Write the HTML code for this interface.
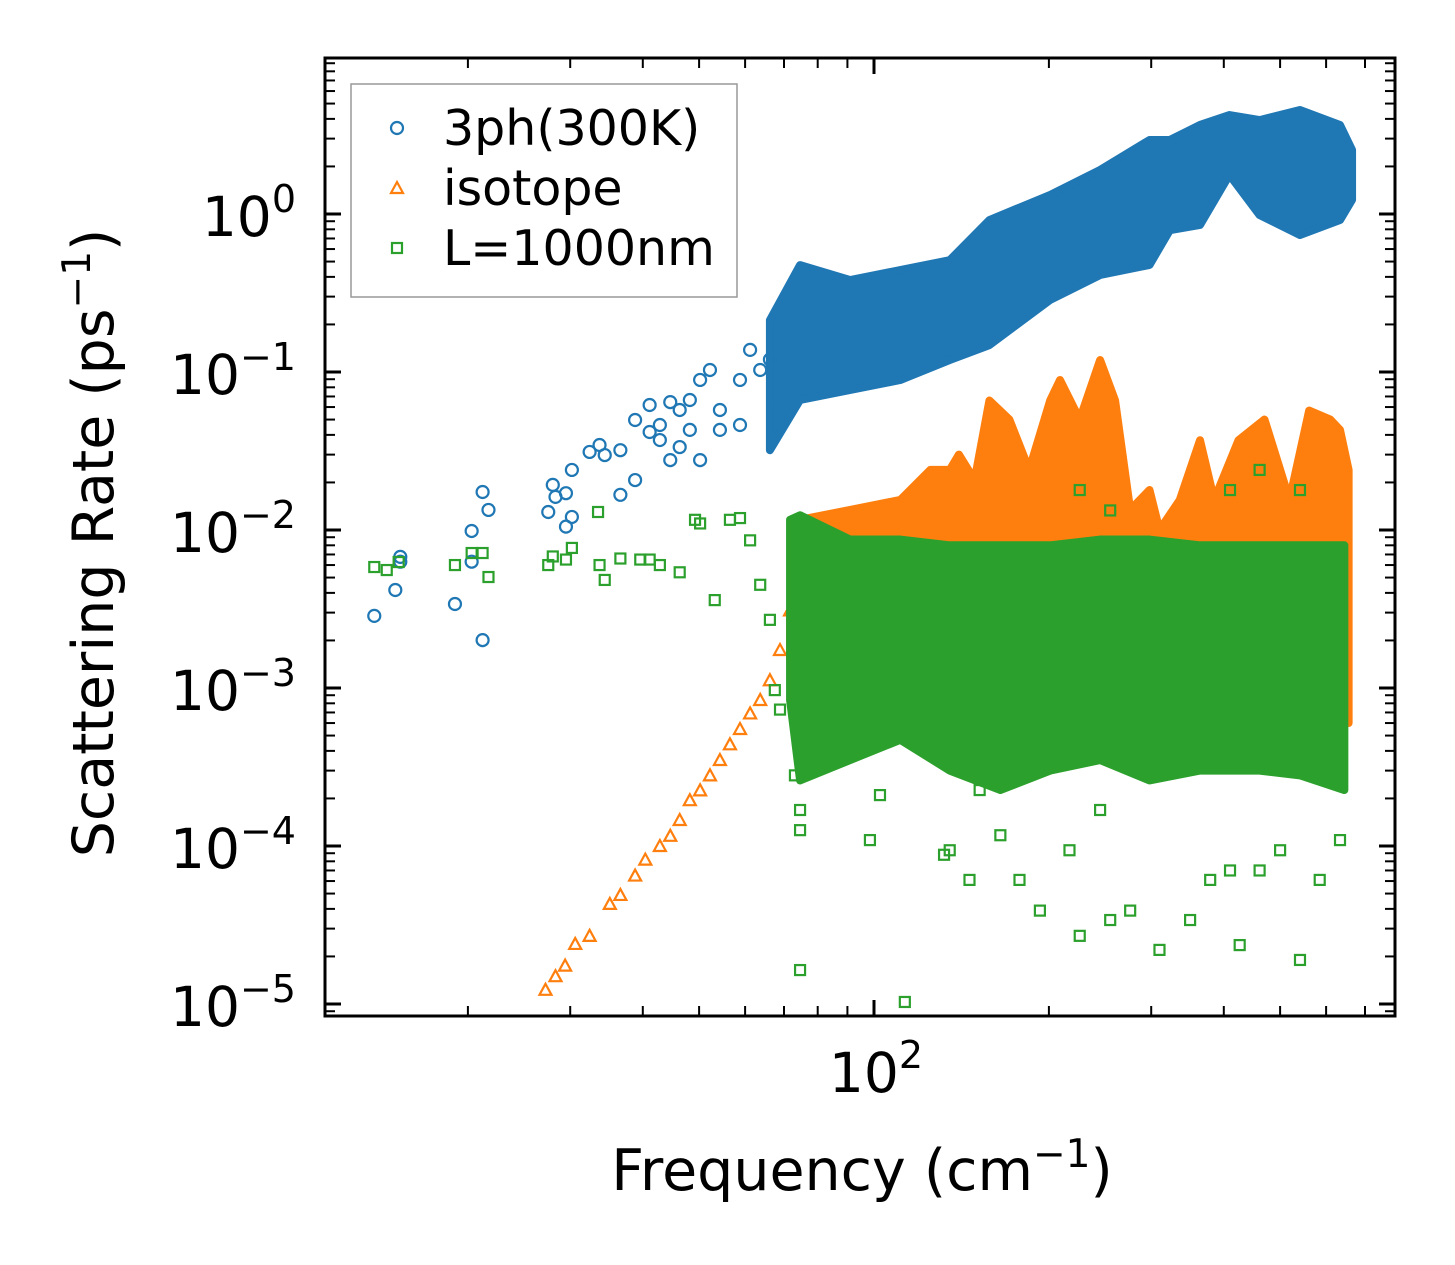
<!DOCTYPE html>
<html><head><meta charset="utf-8"><style>
body{margin:0;background:#fff}
svg{display:block;font-family:"DejaVu Sans","Liberation Sans",sans-serif}
</style></head><body>
<svg id="chart" width="1455" height="1265" viewBox="0 0 1455 1265" xmlns="http://www.w3.org/2000/svg">
<defs><clipPath id="clip"><rect x="325" y="58" width="1070" height="958"/></clipPath></defs>
<g id="marks" clip-path="url(#clip)"></g>
<rect x="325" y="58" width="1070" height="958" fill="none" stroke="#000" stroke-width="3"/>
<g id="ticks"></g>
<text x="113" y="543" transform="rotate(-90 113 543)" text-anchor="middle" font-size="57">Scattering Rate (ps<tspan dy="-23" font-size="39">−1</tspan><tspan dy="23">)</tspan></text>
<text x="862" y="1190" text-anchor="middle" font-size="57">Frequency (cm<tspan dy="-23" font-size="39">−1</tspan><tspan dy="23">)</tspan></text>
<g>
<rect x="351" y="84" width="386" height="213" fill="#fff" stroke="#999" stroke-width="1.5"/>
<circle cx="397" cy="128" r="6" fill="none" stroke="#1f77b4" stroke-width="2.2"/>
<text x="443" y="145" font-size="49">3ph(300K)</text>
<path d="M391 193 L403 193 L397 182 Z" fill="none" stroke="#ff7f0e" stroke-width="2.2"/>
<text x="443" y="205" font-size="49">isotope</text>
<rect x="392" y="243" width="10" height="10" fill="none" stroke="#2ca02c" stroke-width="2.2"/>
<text x="443" y="265" font-size="49">L=1000nm</text>
</g>
</svg>
<script>
// ---- data ----
const blueF=[13.8,15.0,15.3,15.3,19.0,20.3,20.3,21.2,21.2,21.7,27.5,28.0,28.3,29.5,29.5,30.2,30.2,32.4,33.7,34.4,36.6,36.6,38.8,38.8,41.1,41.1,42.8,42.8,44.6,44.6,46.3,46.3,48.2,48.2,50.2,50.2,52.2,54.3,54.3,58.8,58.8,61.2,63.7,66.2];
const blueR=[0.00286,0.00417,0.00676,0.0063,0.0034,0.00986,0.0063,0.00201,0.0174,0.0134,0.013,0.0193,0.0162,0.0171,0.0105,0.0121,0.024,0.0312,0.0345,0.0298,0.032,0.0167,0.0207,0.0497,0.0417,0.0618,0.0371,0.0462,0.0645,0.0277,0.0575,0.0335,0.043,0.0665,0.0891,0.0277,0.103,0.043,0.0575,0.0891,0.0462,0.138,0.103,0.12];
const blueBandF=[66.2,74.6,91,111,135,158,201,245,298,323,364,409,461,541,634,665];
const blueBandHi=[0.213,0.475,0.382,0.442,0.51,0.916,1.32,1.9,2.94,2.94,3.66,4.23,3.93,4.55,3.66,2.54];
const blueBandLo=[0.032,0.0665,0.077,0.089,0.119,0.148,0.286,0.411,0.476,0.79,0.852,1.77,0.985,0.736,0.916,1.23];
const orangeF=[27.2,28.3,29.4,30.6,32.4,35.1,36.6,38.8,40.4,42.8,44.6,46.3,48.2,50.2,52.2,54.3,56.5,58.8,61.2,63.7,66.2,68.9,71.7];
const orangeR=[1.23e-5,1.5e-5,1.75e-5,2.4e-5,2.7e-5,4.3e-5,4.9e-5,6.5e-5,8.2e-5,1.0e-4,1.16e-4,1.46e-4,1.95e-4,2.25e-4,2.8e-4,3.5e-4,4.4e-4,5.5e-4,6.9e-4,8.4e-4,1.12e-3,1.74e-3,3.1e-3];
const orangeBandF=[71.7,74.6,91,111,125,135,140,149,158,171,185,201,209,226,245,260,276,298,310,336,364,385,424,470,519,561,610,634,656];
const orangeBandHi=[0.0027,0.0116,0.0134,0.0155,0.024,0.024,0.030,0.0207,0.066,0.05,0.024,0.066,0.089,0.05,0.119,0.066,0.0134,0.0179,0.01,0.0155,0.037,0.0155,0.037,0.05,0.0155,0.057,0.05,0.043,0.024];
const orangeBandLo=[0.0015,0.0015,0.0015,0.0015,0.0015,0.0015,0.0015,0.0015,0.0015,0.0015,0.0015,0.0015,0.0015,0.0015,0.0015,0.0015,0.0015,0.0015,0.0015,0.0015,0.0015,0.0015,0.0015,0.0015,0.0015,0.0015,0.0015,0.0008,0.0006];
const greenF=[13.8,14.5,15.2,19.0,20.3,21.2,21.7,27.5,28.0,29.5,30.2,33.5,33.7,34.4,36.6,39.6,41.1,42.8,46.3,49.2,50.2,53.2,56.5,58.8,61.2,63.7,66.2,67.5,68.9,73.1,74.6,74.6,74.6,113,80.8,98.4,102.4,132,135,146,152,165,178,193,217,226,245,255,276,310,350,379,410,426,461,500,541,585,634,226,255,410,461,541,634];
const greenR=[0.00583,0.00558,0.00627,0.006,0.00715,0.00715,0.00504,0.006,0.0068,0.0065,0.0077,0.013,0.006,0.00483,0.0066,0.0065,0.0065,0.006,0.0054,0.0116,0.011,0.0036,0.0116,0.0119,0.0086,0.0045,0.0027,0.00097,7.3e-4,2.8e-4,1.69e-4,1.26e-4,1.64e-5,1.03e-5,4.7e-4,1.09e-4,2.1e-4,8.8e-5,9.4e-5,6.1e-5,2.26e-4,1.17e-4,6.1e-5,3.9e-5,9.4e-5,2.7e-5,1.69e-4,3.4e-5,3.9e-5,2.2e-5,3.4e-5,6.1e-5,7.0e-5,2.36e-5,7.0e-5,9.4e-5,1.9e-5,6.1e-5,1.09e-4,0.0179,0.0133,0.0179,0.024,0.0179,0.006];
const greenBandF=[71.7,74.6,91,111,135,165,201,245,298,364,461,541,645];
const greenBandHi=[0.0116,0.0124,0.0087,0.0087,0.008,0.008,0.008,0.0087,0.0087,0.008,0.008,0.008,0.008];
const greenBandLo=[8.4e-4,2.6e-4,3.5e-4,4.7e-4,3.0e-4,2.26e-4,3.0e-4,3.5e-4,2.6e-4,3.0e-4,3.0e-4,2.8e-4,2.26e-4];
const yTickExp=[0,-1,-2,-3,-4,-5];
// ---- axes ----
const X=f=>874+581*Math.log10(f/100);
const Y=r=>214-158*Math.log10(r);
const NS="http://www.w3.org/2000/svg";
const marks=document.getElementById('marks'), ticks=document.getElementById('ticks');
function mk(tag,parent){const e=document.createElementNS(NS,tag);parent.appendChild(e);return e;}
function band(F,Hi,Lo,color,name){
  let d='M'+F.map((f,i)=>X(f)+' '+Y(Hi[i])).join(' L');
  for(let i=F.length-1;i>=0;i--) d+=' L'+X(F[i])+' '+Y(Lo[i]);
  const p=mk('path',marks);p.setAttribute('d',d+'Z');p.setAttribute('fill',color);p.setAttribute('stroke',color);p.setAttribute('stroke-width','8');p.setAttribute('stroke-linejoin','round');
  
  
}
function circle(f,r){const c=mk('circle',marks);c.setAttribute('cx',X(f));c.setAttribute('cy',Y(r));c.setAttribute('r',6);c.setAttribute('fill','none');c.setAttribute('stroke','#1f77b4');c.setAttribute('stroke-width',2.2);
  
  }
function tri(f,r){const x=X(f),y=Y(r);const p=mk('path',marks);p.setAttribute('d',`M${x-6} ${y+5} L${x+6} ${y+5} L${x} ${y-6}Z`);p.setAttribute('fill','none');p.setAttribute('stroke','#ff7f0e');p.setAttribute('stroke-width',2.2);
  
  }
function sq(f,r){const x=X(f),y=Y(r);const p=mk('rect',marks);p.setAttribute('x',x-5);p.setAttribute('y',y-5);p.setAttribute('width',10);p.setAttribute('height',10);p.setAttribute('fill','none');p.setAttribute('stroke','#2ca02c');p.setAttribute('stroke-width',2.2);
  
  }
band(blueBandF,blueBandHi,blueBandLo,'#1f77b4','band-3ph');
blueF.forEach((f,i)=>circle(f,blueR[i]));
band(orangeBandF,orangeBandHi,orangeBandLo,'#ff7f0e','band-isotope');
orangeF.forEach((f,i)=>tri(f,orangeR[i]));
band(greenBandF,greenBandHi,greenBandLo,'#2ca02c','band-boundary');
greenF.forEach((f,i)=>sq(f,greenR[i]));
// ticks
function line(x1,y1,x2,y2,w,name){const l=mk('line',ticks);l.setAttribute('x1',x1);l.setAttribute('y1',y1);l.setAttribute('x2',x2);l.setAttribute('y2',y2);l.setAttribute('stroke','#000');l.setAttribute('stroke-width',w);
  
  }
yTickExp.forEach(e=>{
  const y=Y(Math.pow(10,e));
  line(325,y,341,y,3,'y-major-tick');line(1379,y,1395,y,3,'y-major-tick');
  const t=mk('text',ticks);t.setAttribute('x',296);t.setAttribute('y',y+22);t.setAttribute('text-anchor','end');t.setAttribute('font-size','55');
  
  
  t.innerHTML='10<tspan dy="-24" font-size="38">'+(e<0?'−'+(-e):e)+'</tspan>';
});
for(let e=-6;e<=1;e++)for(let m=2;m<=9;m++){const y=Y(m*Math.pow(10,e));if(y>60&&y<1014){line(325,y,335,y,2,'y-minor-tick');line(1385,y,1395,y,2,'y-minor-tick');}}
line(X(100),1016,X(100),1000,3,'x-major-tick');line(X(100),58,X(100),74,3,'x-major-tick');
const xt=mk('text',ticks);xt.setAttribute('x',X(100)+2);xt.setAttribute('y',1092);xt.setAttribute('text-anchor','middle');xt.setAttribute('font-size','55');


xt.innerHTML='10<tspan dy="-24" font-size="38">2</tspan>';
[20,30,40,50,60,70,80,90,200,300,400,500,600,700].forEach(f=>{const x=X(f);line(x,1016,x,1006,2,'x-minor-tick');line(x,58,x,68,2,'x-minor-tick');});
</script>
</body></html>
